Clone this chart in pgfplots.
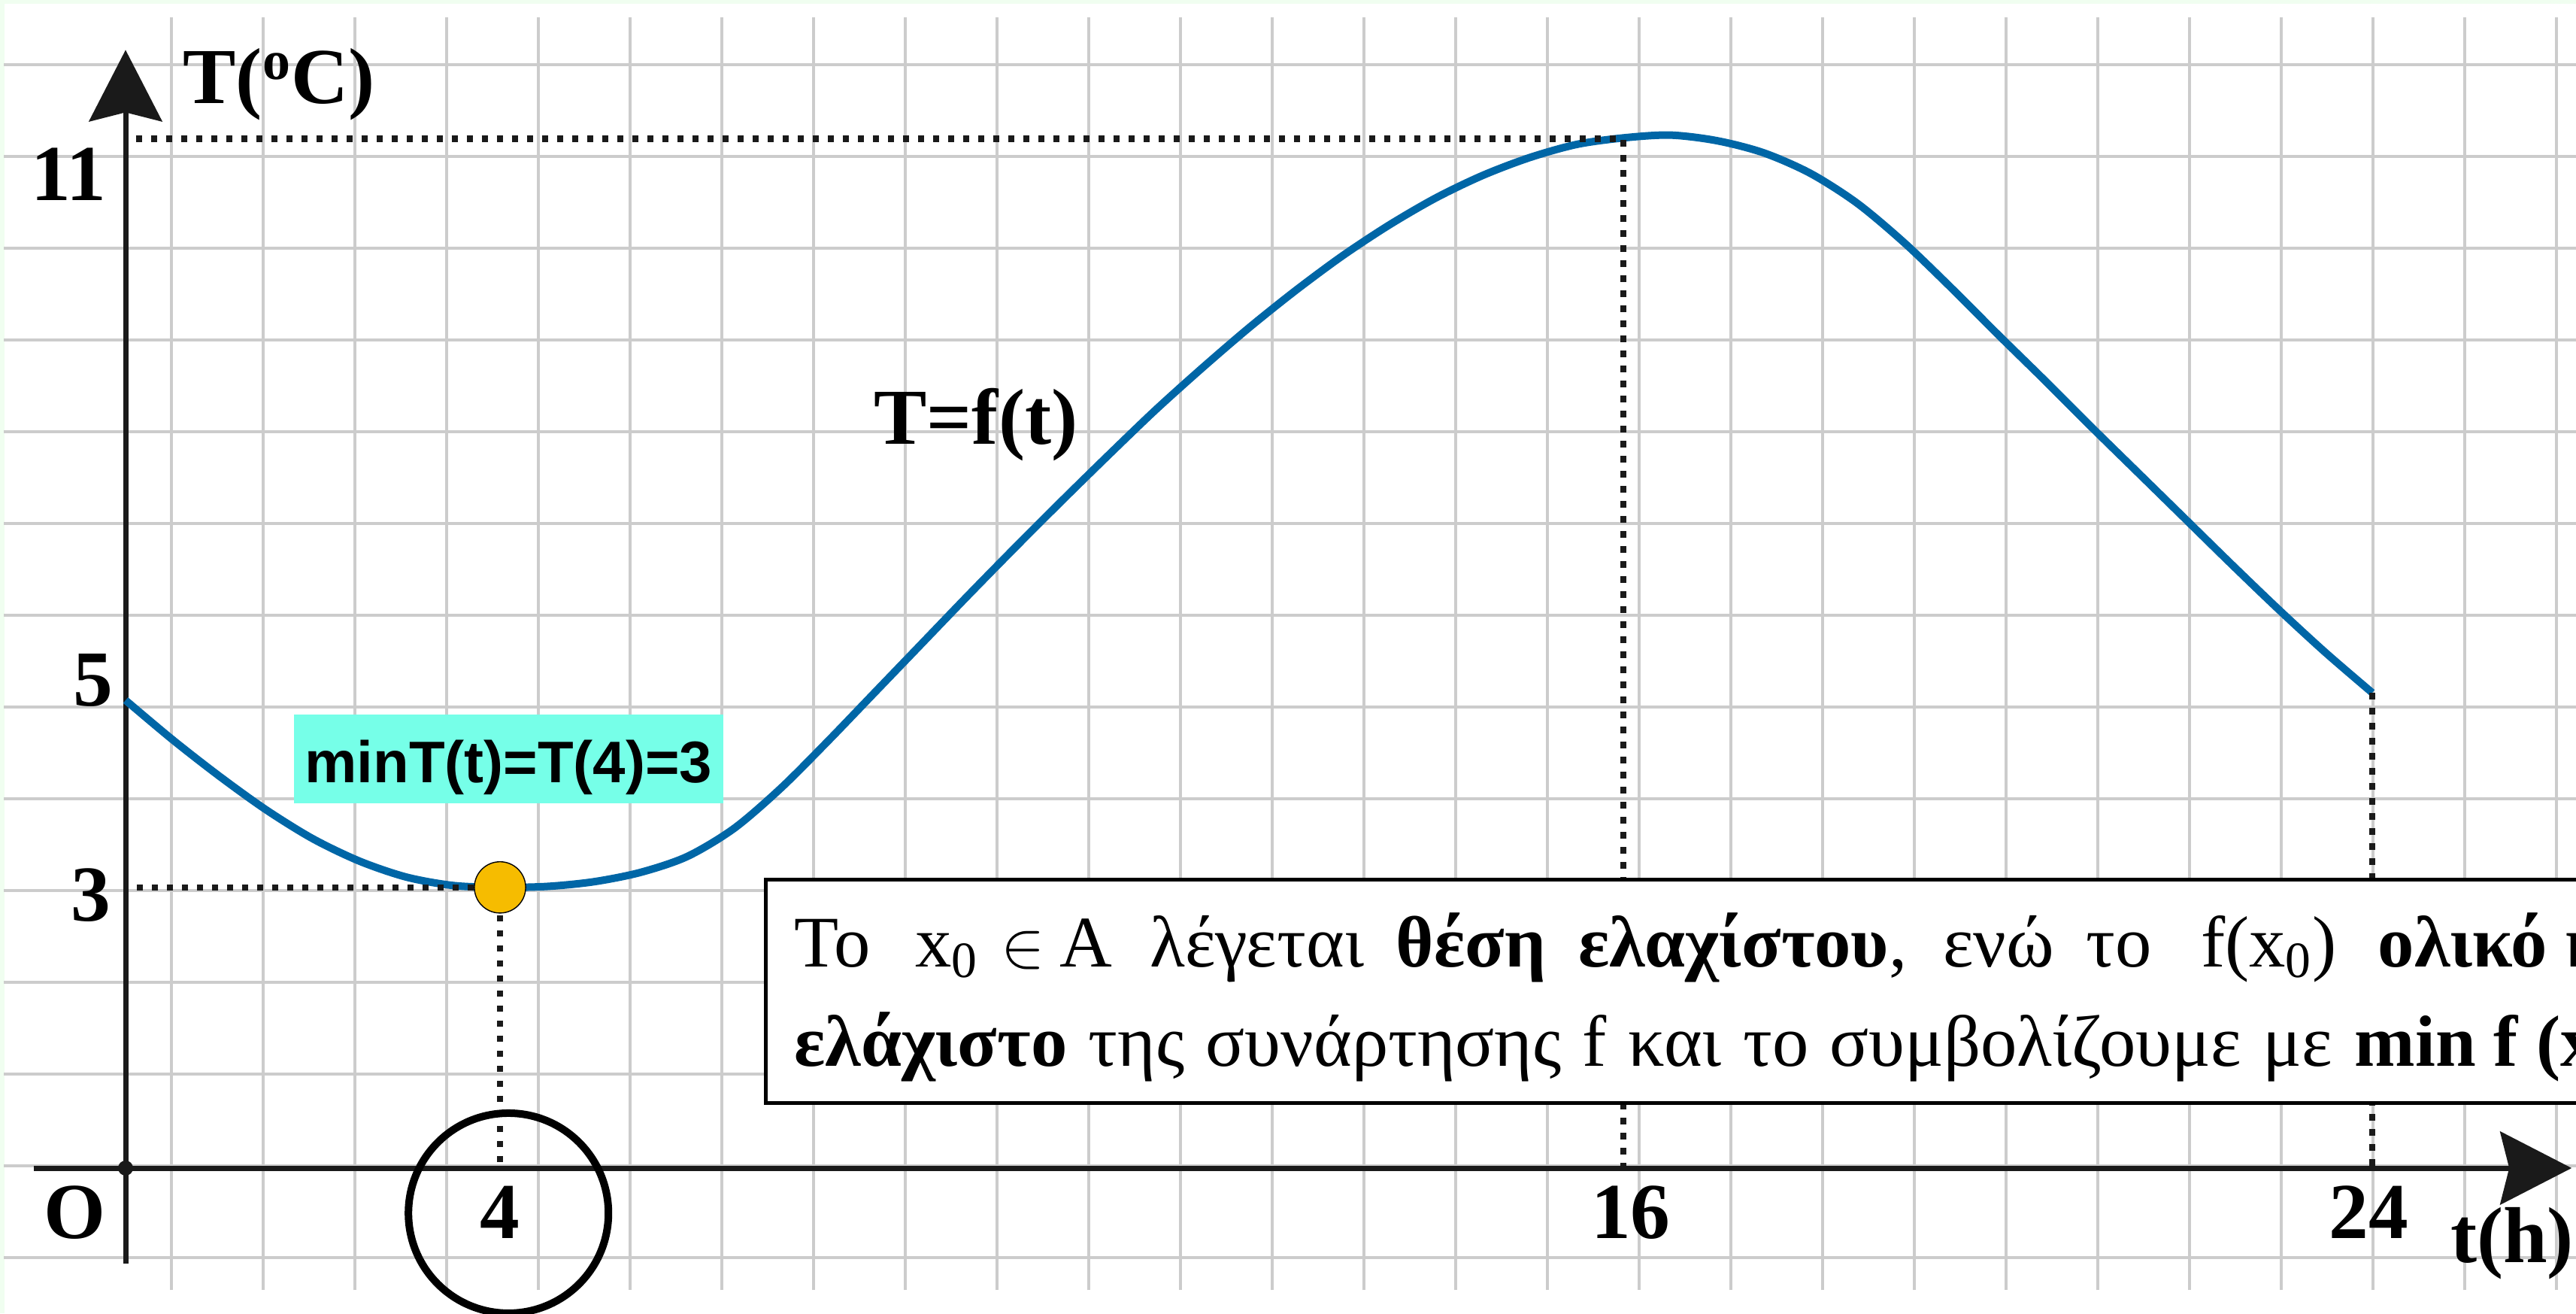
\documentclass[border=0pt]{standalone}
\usepackage{fontspec}
\setmainfont{Liberation Serif}
\newfontfamily\labelsans{Liberation Sans}
\usepackage{pgfplots}
\pgfplotsset{compat=1.18}
\usetikzlibrary{arrows.meta}

\definecolor{curveblue}{RGB}{0,102,166}
\definecolor{dotc}{RGB}{246,188,0}
\definecolor{minc}{RGB}{118,255,232}
\definecolor{axisc}{RGB}{26,26,26}
\definecolor{gridc}{RGB}{204,204,204}
\definecolor{mint}{RGB}{240,254,240}

\newcommand\lbl{\bfseries\fontsize{30}{36}\selectfont}

\begin{document}
\begin{tikzpicture}[x=1cm,y=1cm]
\useasboundingbox (0,0) rectangle (34.26,17.46);
\clip (0,0) rectangle (34.26,17.46);
% paper
\fill[mint] (0,0) rectangle (34.26,17.46);
\fill[white] (0.06,0) rectangle (34.26,17.41);
% squared paper
\foreach \k in {0,...,26}
  \draw[gridc, line width=0.035cm] ({(228+122*\k)/100},0.31) -- ({(228+122*\k)/100},17.23);
\foreach \k in {-1,...,12}
  \draw[gridc, line width=0.035cm] (0.05,{(196+122*\k)/100}) -- (34.26,{(196+122*\k)/100});

\begin{axis}[
  x=1.245cm, y=1.244cm,
  xmin=-1.3414, xmax=26.1767, ymin=-1.5514, ymax=12.4839,
  hide axis, clip=false,
]
% coordinate axes
\draw[axisc, line width=0.07cm, -{Stealth[length=0.95cm,width=0.97cm,inset=0.12cm]}]
  (axis cs:-0.98,0) -- (axis cs:26.13,0);
\draw[axisc, line width=0.07cm, -{Stealth[length=0.95cm,width=0.97cm,inset=0.12cm]}]
  (axis cs:0,-1.02) -- (axis cs:0,11.95);
\fill[axisc] (axis cs:0,0) circle[radius=0.1cm];

% temperature over the day
\addplot[curveblue, line width=0.1cm, smooth] coordinates {
  (0,5.00) (0.5,4.58) (1.0,4.19) (1.5,3.83) (2.0,3.52) (2.5,3.28)
  (3.0,3.11) (3.5,3.02) (4.0,3.00) (4.5,3.01) (5.0,3.06) (5.5,3.16)
  (6.0,3.33) (6.5,3.63) (7.0,4.06) (7.5,4.56) (8.0,5.08) (8.5,5.60)
  (9.0,6.12) (9.5,6.63) (10.0,7.13) (10.5,7.62) (11.0,8.10) (11.5,8.55)
  (12.0,8.98) (12.5,9.38) (13.0,9.75) (13.5,10.08) (14.0,10.37) (14.5,10.61)
  (15.0,10.80) (15.5,10.94) (16.0,11.01) (16.5,11.04) (17.0,10.98) (17.5,10.85)
  (18.0,10.63) (18.5,10.31) (19.0,9.89) (19.5,9.41) (20.0,8.91) (20.5,8.42)
  (21.0,7.92) (21.5,7.43) (22.0,6.94) (22.5,6.45) (23.0,5.97) (23.5,5.51)
  (24.0,5.08)
};

% guide lines
\addplot[axisc, line width=0.085cm, dash pattern=on 0.085cm off 0.115cm]
  coordinates {(0.11,11) (16,11) (16,0)};
\addplot[axisc, line width=0.085cm, dash pattern=on 0.085cm off 0.115cm]
  coordinates {(0.12,3) (4,3) (4,0)};
\addplot[axisc, line width=0.085cm, dash pattern=on 0.085cm off 0.115cm]
  coordinates {(24,5.08) (24,0)};

% minimum
\addplot[only marks, mark=*, mark size=9.7pt, mark options={fill=dotc, draw=none}]
  coordinates {(4,3)};

% axis labels and values
\node[font=\lbl, anchor=base, inner sep=0] at (axis cs:-0.546,-0.748) {O};
\node[font=\lbl, anchor=base, inner sep=0] at (axis cs:4,-0.748) {4};
\node[font=\lbl, anchor=base, inner sep=0] at (axis cs:16.08,-0.748) {16};
\node[font=\lbl, anchor=base, inner sep=0] at (axis cs:23.96,-0.748) {24};
\node[font=\lbl, anchor=base west, inner sep=0] at (axis cs:24.83,-1.005) {t(h)};
\node[font=\lbl, anchor=base east, inner sep=0] at (axis cs:-0.15,2.64) {3};
\node[font=\lbl, anchor=base east, inner sep=0] at (axis cs:-0.13,4.94) {5};
\node[font=\lbl, anchor=base east, inner sep=0] at (axis cs:-0.2,10.34) {11};
\node[font=\lbl, anchor=base west, inner sep=0] at (axis cs:0.61,11.38) {T(\textsuperscript{o}C)};
\node[font=\lbl, anchor=base west, inner sep=0] at (axis cs:7.99,7.74) {T=f(t)};

% minimum label
\fill[minc] (axis cs:1.799,3.899) rectangle (axis cs:6.386,4.847);
\node[anchor=base, inner sep=0, font=\labelsans\bfseries\fontsize{22.2}{26}\selectfont]
  at (axis cs:4.09,4.116) {minT(t)=T(4)=3};

% definition box (justified lines)
\filldraw[fill=white, draw=black, line width=0.05cm]
  (axis cs:6.843,0.699) rectangle (axis cs:26.9,3.079);
\node[anchor=base west, inner sep=0, font=\fontsize{27.5}{33}\selectfont]
  at (axis cs:7.14,2.154)
  {\makebox[23.31cm][s]{Το\hspace{0.6cm}x\textsubscript{0}\hspace{0.3cm}$\in$\hspace{0.2cm}A\hspace{0.5cm}λέγεται \textbf{θέση} \textbf{ελαχίστου}, ενώ το\hspace{0.65cm}f(x\textsubscript{0})\hspace{0.55cm}\textbf{ολικό}}\hspace{0.25cm}\textbf{ή}};
\node[anchor=base west, inner sep=0, font=\fontsize{27.5}{33}\selectfont]
  at (axis cs:7.14,1.093)
  {\makebox[20.45cm][s]{\textbf{ελάχιστο} της συνάρτησης f και το συμβολίζουμε με}\hspace{0.3cm}\textbf{min f (x)}};

% highlighted abscissa
\draw[black, line width=0.1cm] (axis cs:4.09,-0.482) circle[radius=1.33cm];
\end{axis}
\end{tikzpicture}
\end{document}
